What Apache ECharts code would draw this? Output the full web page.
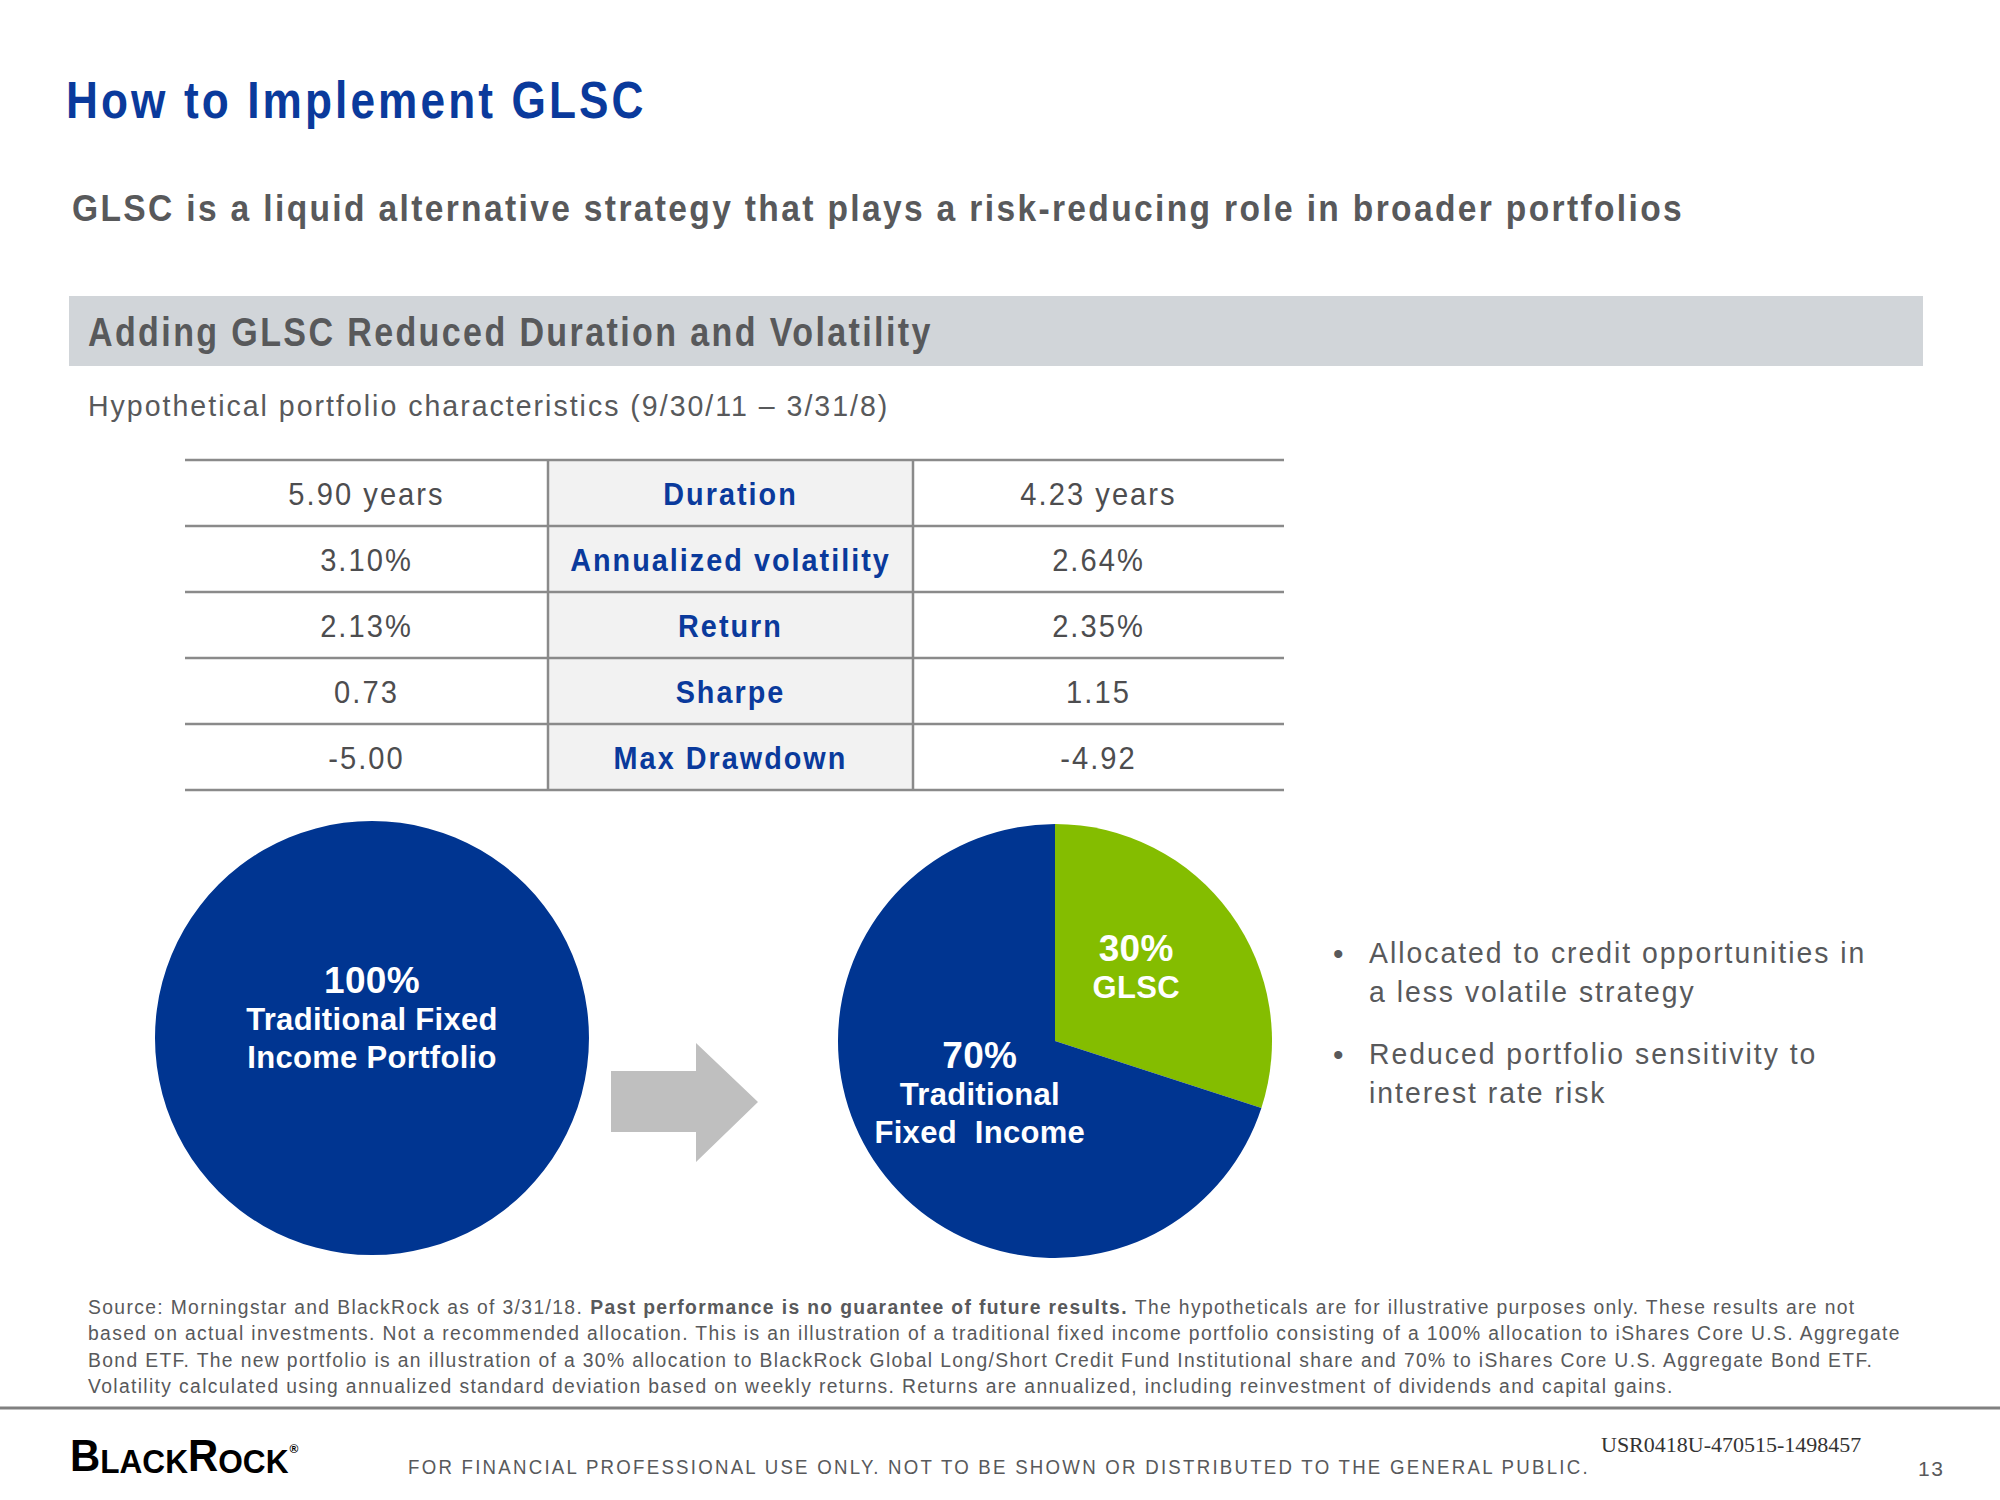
<!DOCTYPE html>
<html>
<head>
<meta charset="utf-8">
<script src="https://cdn.jsdelivr.net/npm/echarts@6/dist/echarts.min.js"></script>
<style>
  html, body { margin: 0; padding: 0; background: #fff; }
  #chart { width: 2000px; height: 1500px; }
  #chart text { letter-spacing: 0.07em; white-space: pre; }
</style>
</head>
<body>
<div id="chart"></div>
<script>
// table values
const metricNames = ['Duration', 'Annualized volatility', 'Return', 'Sharpe', 'Max Drawdown'];
const traditionalStats = ['5.90 years', '3.10%', '2.13%', '0.73', '-5.00'];
const withGlscStats = ['4.23 years', '2.64%', '2.35%', '1.15', '-4.92'];

// pie values
const oldMixNames = ['Traditional Fixed\nIncome Portfolio'];
const oldMixValues = [100];
const newMixNames = ['GLSC', 'Traditional\nFixed  Income'];
const newMixValues = [30, 70];

const bullets = [
  ['Allocated to credit opportunities in', 'a less volatile strategy'],
  ['Reduced portfolio sensitivity to', 'interest rate risk']
];

const noteLead = 'Source: Morningstar and BlackRock as of 3/31/18. ';
const noteBold = 'Past performance is no guarantee of future results.';
const noteTail = ' The hypotheticals are for illustrative purposes only. These results are not';
const noteLines = [
  'based on actual investments. Not a recommended allocation. This is an illustration of a traditional fixed income portfolio consisting of a 100% allocation to iShares Core U.S. Aggregate',
  'Bond ETF. The new portfolio is an illustration of a 30% allocation to BlackRock Global Long/Short Credit Fund Institutional share and 70% to iShares Core U.S. Aggregate Bond ETF.',
  'Volatility calculated using annualized standard deviation based on weekly returns. Returns are annualized, including reinvestment of dividends and capital gains.'
];

const SANS = '"Liberation Sans", Arial, sans-serif';
const BLUE = '#003591';
const GREEN = '#84bd00';
const GREY_TEXT = '#58595b';

// measure text width incl. letter spacing (matches the css rule above)
const mctx = document.createElement('canvas').getContext('2d');
function measure(str, size, weight, spacingEm) {
  mctx.font = `${weight} ${size}px ${SANS}`;
  return mctx.measureText(str).width + str.length * size * spacingEm;
}

// text drawn a bit condensed to mimic the narrow slide font
function txt(x, y, text, size, opts = {}) {
  return {
    type: 'text', x, y, silent: true, scaleX: opts.sx || 1,
    style: {
      text, fontSize: size, fontFamily: opts.family || SANS,
      fontWeight: opts.weight || 'normal', fill: opts.color || GREY_TEXT,
      textAlign: opts.align || 'left', textVerticalAlign: opts.valign || 'middle'
    }
  };
}

const graphics = [];

// headings
graphics.push(txt(66, 100, 'How to Implement GLSC', 52, { weight: 'bold', color: '#0a3a9c', sx: 0.85 }));
graphics.push(txt(72, 208, 'GLSC is a liquid alternative strategy that plays a risk-reducing role in broader portfolios', 37, { weight: 'bold', sx: 0.907 }));
graphics.push({ type: 'rect', silent: true, shape: { x: 69, y: 296, width: 1854, height: 70 }, style: { fill: '#d1d5d9' } });
graphics.push(txt(88, 332, 'Adding GLSC Reduced Duration and Volatility', 40, { weight: 'bold', sx: 0.851 }));
graphics.push(txt(88, 406, 'Hypothetical portfolio characteristics (9/30/11 \u2013 3/31/8)', 30, { sx: 0.951 }));

// table
const tLeft = 185, tRight = 1284, colA = 548, colB = 913, tTop = 460, rowH = 66;
const nRows = metricNames.length;
graphics.push({ type: 'rect', silent: true, shape: { x: colA, y: tTop, width: colB - colA, height: rowH * nRows }, style: { fill: '#f2f2f2' } });
for (let i = 0; i <= nRows; i++) {
  const y = tTop + i * rowH;
  graphics.push({ type: 'line', silent: true, shape: { x1: tLeft, y1: y, x2: tRight, y2: y }, style: { stroke: '#8a8a8a', lineWidth: 2.5 } });
}
[colA, colB].forEach(x => {
  graphics.push({ type: 'line', silent: true, shape: { x1: x, y1: tTop, x2: x, y2: tTop + rowH * nRows }, style: { stroke: '#8a8a8a', lineWidth: 2.5 } });
});
metricNames.forEach((m, i) => {
  const cy = tTop + i * rowH + rowH / 2;
  graphics.push(txt((tLeft + colA) / 2, cy, traditionalStats[i], 32, { align: 'center', color: '#4d4d4f', sx: 0.91 }));
  graphics.push(txt((colA + colB) / 2, cy, m, 32, { align: 'center', weight: 'bold', color: '#0a3a9c', sx: 0.9 }));
  graphics.push(txt((colB + tRight) / 2, cy, withGlscStats[i], 32, { align: 'center', color: '#4d4d4f', sx: 0.91 }));
});

// arrow
graphics.push({
  type: 'polygon', silent: true,
  shape: { points: [[611, 1071], [696, 1071], [696, 1043], [758, 1102], [696, 1162], [696, 1132], [611, 1132]] },
  style: { fill: '#bfbfbf' }
});

// bullets
const bulletY = [953, 1054];
bullets.forEach((lines, i) => {
  graphics.push(txt(1333, bulletY[i], '\u2022', 30));
  lines.forEach((l, j) => graphics.push(txt(1369, bulletY[i] + j * 39, l, 30, { sx: 0.946 })));
});

// footnote
const noteSize = 21, noteX = 88, noteY = [1307, 1333, 1360, 1386], noteSx = 0.92;
let nx = noteX;
graphics.push(txt(nx, noteY[0], noteLead, noteSize, { sx: noteSx }));
nx += measure(noteLead, noteSize, 'normal', 0.07) * noteSx;
graphics.push(txt(nx, noteY[0], noteBold, noteSize, { weight: 'bold', sx: noteSx }));
nx += measure(noteBold, noteSize, 'bold', 0.07) * noteSx;
graphics.push(txt(nx, noteY[0], noteTail, noteSize, { sx: noteSx }));
noteLines.forEach((l, i) => graphics.push(txt(noteX, noteY[i + 1], l, noteSize, { sx: noteSx })));

// footer
graphics.push({ type: 'line', silent: true, shape: { x1: 0, y1: 1408, x2: 2000, y2: 1408 }, style: { stroke: '#808080', lineWidth: 3 } });
const logoParts = [['B', 45], ['LACK', 34], ['R', 45], ['OCK', 34]];
const logoSx = 0.93;
let lx = 70;
logoParts.forEach(([s, size]) => {
  graphics.push(txt(lx, 1478, s, size, { weight: 'bold', color: '#000', valign: 'bottom', sx: logoSx }));
  lx += measure(s, size, 'bold', 0) * logoSx;
});
graphics.push(txt(lx + 1, 1449, '\u00ae', 12, { weight: 'bold', color: '#000' }));
graphics.push(txt(408, 1467, 'FOR FINANCIAL PROFESSIONAL USE ONLY. NOT TO BE SHOWN OR DISTRIBUTED TO THE GENERAL PUBLIC.', 21, { sx: 0.889 }));
graphics.push(txt(1601, 1444, 'USR0418U-470515-1498457', 22, { family: '"Liberation Serif", "Times New Roman", serif', color: '#333' }));
graphics.push(txt(1918, 1468, '13', 21));

function pieLabel(p) {
  return `{pct|${p.value}%}\n` + p.name.split('\n').map(s => `{name|${s}}`).join('\n');
}

const pieRich = {
  pct: { fontFamily: SANS, fontSize: 37, fontWeight: 'bold', color: '#fff', lineHeight: 40 },
  name: { fontFamily: SANS, fontSize: 31, fontWeight: 'bold', color: '#fff', lineHeight: 38 }
};

const chart = echarts.init(document.getElementById('chart'), null, { renderer: 'svg' });
chart.setOption({
  animation: false,
  graphic: graphics,
  series: [
    {
      type: 'pie', silent: true,
      center: [372, 1038], radius: 217,
      startAngle: 90, clockwise: true,
      label: {
        show: true, position: 'center', formatter: pieLabel,
        padding: [0, 0, 40, 0], rich: pieRich
      },
      labelLine: { show: false },
      data: oldMixNames.map((n, i) => ({ name: n, value: oldMixValues[i], itemStyle: { color: BLUE } }))
    },
    {
      type: 'pie', silent: true,
      center: [1055, 1041], radius: 217,
      startAngle: 90, clockwise: true,
      label: { show: true, position: 'inside', formatter: pieLabel, rich: pieRich },
      labelLine: { show: false },
      data: newMixNames.map((n, i) => ({
        name: n, value: newMixValues[i],
        itemStyle: { color: i === 0 ? GREEN : BLUE },
        label: { padding: i === 0 ? [0, 18, 16, 0] : [0, 0, 26, 30] }
      }))
    }
  ]
});

// per-text letter spacing overrides
const pieTokens = new Set(['100%', '30%', '70%', 'GLSC', 'Traditional', 'Traditional Fixed', 'Income Portfolio', 'Fixed  Income']);
const spacingOverrides = [
  [/^FOR FINANCIAL/, '0.12em'],
  [/^USR/, '0'],
  [/^(B|LACK|R|OCK|\u00ae)$/, '0']
];
function applySpacing() {
  document.querySelectorAll('#chart text').forEach(t => {
    const s = t.textContent;
    if (pieTokens.has(s)) { t.style.letterSpacing = '0.01em'; return; }
    for (const [re, v] of spacingOverrides) {
      if (re.test(s)) { t.style.letterSpacing = v; break; }
    }
  });
}
chart.on('finished', applySpacing);
setTimeout(applySpacing, 30);
</script>
</body>
</html>
